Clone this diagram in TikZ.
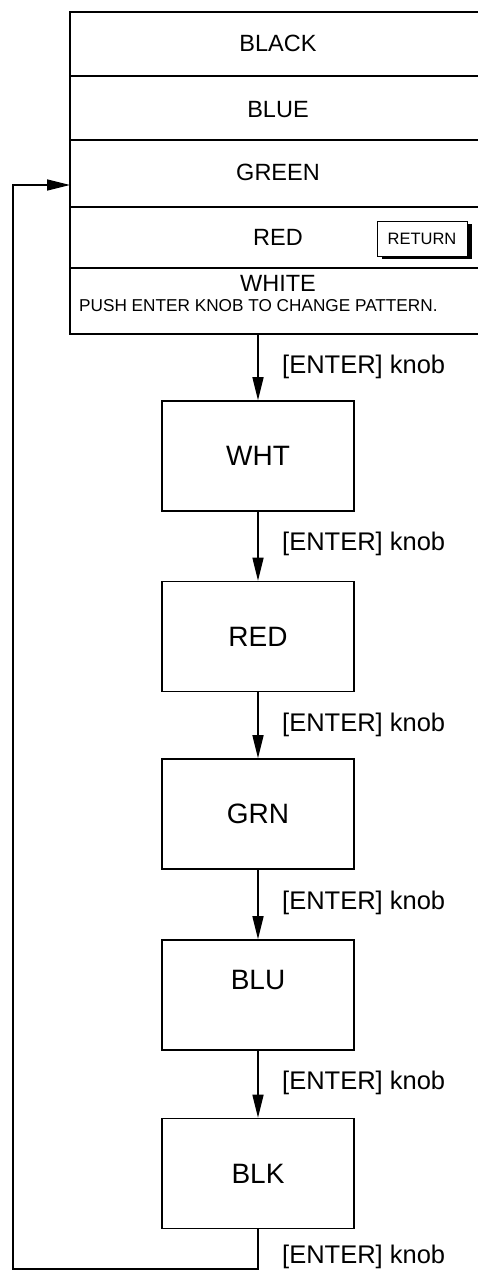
\documentclass[tikz,border=0pt]{standalone}
\usepackage{fontspec}
\setmainfont{Liberation Sans}
\usetikzlibrary{arrows.meta, positioning, shadows}
\tikzset{
  >={Triangle[length=23pt, width=11pt]},
  every picture/.style={line cap=butt, line join=miter},
  frame/.style={line width=1.6pt},
  flow/.style={->, line width=1.4pt},
  % boxes of the colour test sequence
  stepbox/.style={draw, line width=1.6pt, minimum width=192pt, minimum height=110pt,
    inner sep=0pt, font=\fontsize{28}{32}\selectfont},
  menutext/.style={inner sep=0pt, font=\fontsize{23.5}{28}\selectfont},
  knob/.style={inner sep=0pt, anchor=west, font=\fontsize{25.5}{30}\selectfont},
  retbtn/.style={draw, line width=0.9pt, fill=white, minimum width=90pt, minimum height=35pt,
    inner sep=0pt, font=\fontsize{16.5}{20}\selectfont,
    drop shadow={shadow xshift=4.5pt, shadow yshift=-3pt, fill=black, opacity=1}},
}
\begin{document}
\begin{tikzpicture}[x=1pt, y=-1pt]
  \useasboundingbox (0,0) rectangle (477,1271);
  % menu window
  \draw[frame] (490,12) -- (70,12) -- (70,334) -- (490,334);
  \draw[line width=2.2pt] (70,12) -- (373,12);
  \foreach \y in {76,140,207,268} \draw[frame] (70,\y) -- (490,\y);
  \node[menutext] (black) at (278,43) {BLACK};
  \node[menutext] (blue)  at (278,110) {BLUE};
  \node[menutext] (green) at (278,172) {GREEN};
  \node[menutext] (red)   at (278,237) {RED};
  \node[retbtn]   (ret)   at (422,238.5) {RETURN};
  \node[menutext] (white) at (278,283) {WHITE};
  \node[inner sep=0pt, anchor=west, font=\fontsize{17.2}{20}\selectfont] (push) at (79,305.5)
    {PUSH ENTER KNOB TO CHANGE PATTERN.};
  \coordinate (menubot) at (258,334);
  \coordinate (loopin) at (70,185);
  % test patterns
  \node[stepbox] (wht) at (258,456) {WHT};
  \node[stepbox] (rd)  at (258,636.5) {RED};
  \node[stepbox] (grn) at (258,814) {GRN};
  \node[stepbox, text depth=30pt] (blu) at (258,995) {BLU};
  \node[stepbox] (blk) at (258,1173.5) {BLK};
  \draw[flow] (menubot) -- (wht.north);
  \draw[flow] (wht.south) -- (rd.north);
  \draw[flow] (rd.south) -- (grn.north);
  \draw[flow] (grn.south) -- (blu.north);
  \draw[flow] (blu.south) -- (blk.north);
  \foreach \y/\n in {367/k1, 544/k2, 725/k3, 903/k4, 1083/k5, 1257/k6}
    \node[knob] (\n) at (282,\y) {[ENTER] knob};
  % back to the menu
  \coordinate (loopturn) at (13,1269);
  \draw[flow] (blk.south) |- (loopturn) |- (loopin);
\end{tikzpicture}
\end{document}
